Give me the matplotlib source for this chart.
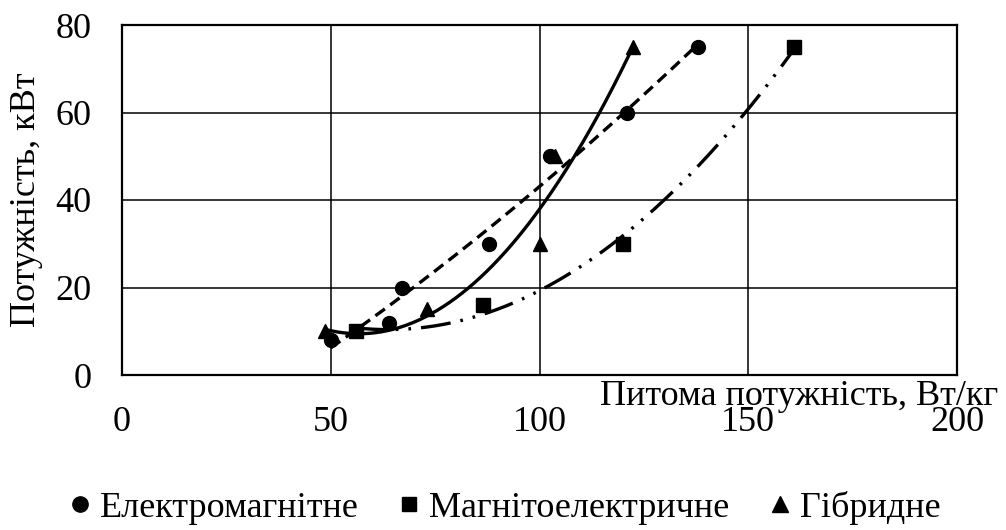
import numpy as np
import matplotlib
matplotlib.use('Agg')
import matplotlib.pyplot as plt

# data
em_x = [50, 64, 67, 88, 102.5, 121, 138]
em_y = [8, 12, 20, 30, 50, 60, 75]
me_x = [56, 86.5, 120, 161]
me_y = [10, 16, 30, 75]
hy_x = [48.7, 73, 100, 103.7, 122.5]
hy_y = [10, 15, 30, 50, 75]
labels = ['Електромагнітне', 'Магнітоелектричне', 'Гібридне']

plt.rcParams['font.family'] = ['Liberation Serif', 'DejaVu Serif']

fig = plt.figure(figsize=(10.06, 5.30), dpi=100)
ax = fig.add_axes([122/1006, 1-375/530, (957-122)/1006, (375-25)/530])

def trend(x, y, deg=2):
    # polynomial trend line over the range of the data (like Excel)
    c = np.polyfit(x, y, deg)
    xs = np.linspace(min(x), max(x), 200)
    return xs, np.polyval(c, xs)

xs, ys = trend(em_x, em_y)
ax.plot(xs, ys, color='black', lw=2.4, dashes=(3.5, 2))
xs, ys = trend(me_x, me_y)
ax.plot(xs, ys, color='black', lw=2.4, dashes=(9, 3, 0.8, 3, 0.8, 3))
xs, ys = trend(hy_x, hy_y)
ax.plot(xs, ys, color='black', lw=2.4)

ax.plot(em_x, em_y, 'o', color='black', ms=10, label=labels[0])
ax.plot(me_x, me_y, 's', color='black', ms=9.5, label=labels[1])
ax.plot(hy_x, hy_y, '^', color='black', ms=10, label=labels[2])

ax.set_xlim(0, 200)
ax.set_ylim(0, 80)
ax.set_xticks([0, 50, 100, 150, 200])
ax.set_yticks([0, 20, 40, 60, 80])
ax.grid(True, color='black', lw=1.1)
ax.set_axisbelow(True)
for s in ax.spines.values():
    s.set_linewidth(1.6)
ax.tick_params(length=0, labelsize=26, pad=22)

fig.text(27/1006, 1-200/530, 'Потужність, кВт', fontsize=26, rotation=90,
         ha='center', va='center')
fig.text(998/1006, 1-405/530, 'Питома потужність, Вт/кг', fontsize=26,
         ha='right', va='baseline')

fig.legend(loc='center', bbox_to_anchor=(0.5, 1-508/530), ncol=3, frameon=False,
           fontsize=26, handletextpad=0.15, columnspacing=1.0, markerscale=1.1,
           handlelength=0.8)

fig.savefig('out.png', dpi=100)
